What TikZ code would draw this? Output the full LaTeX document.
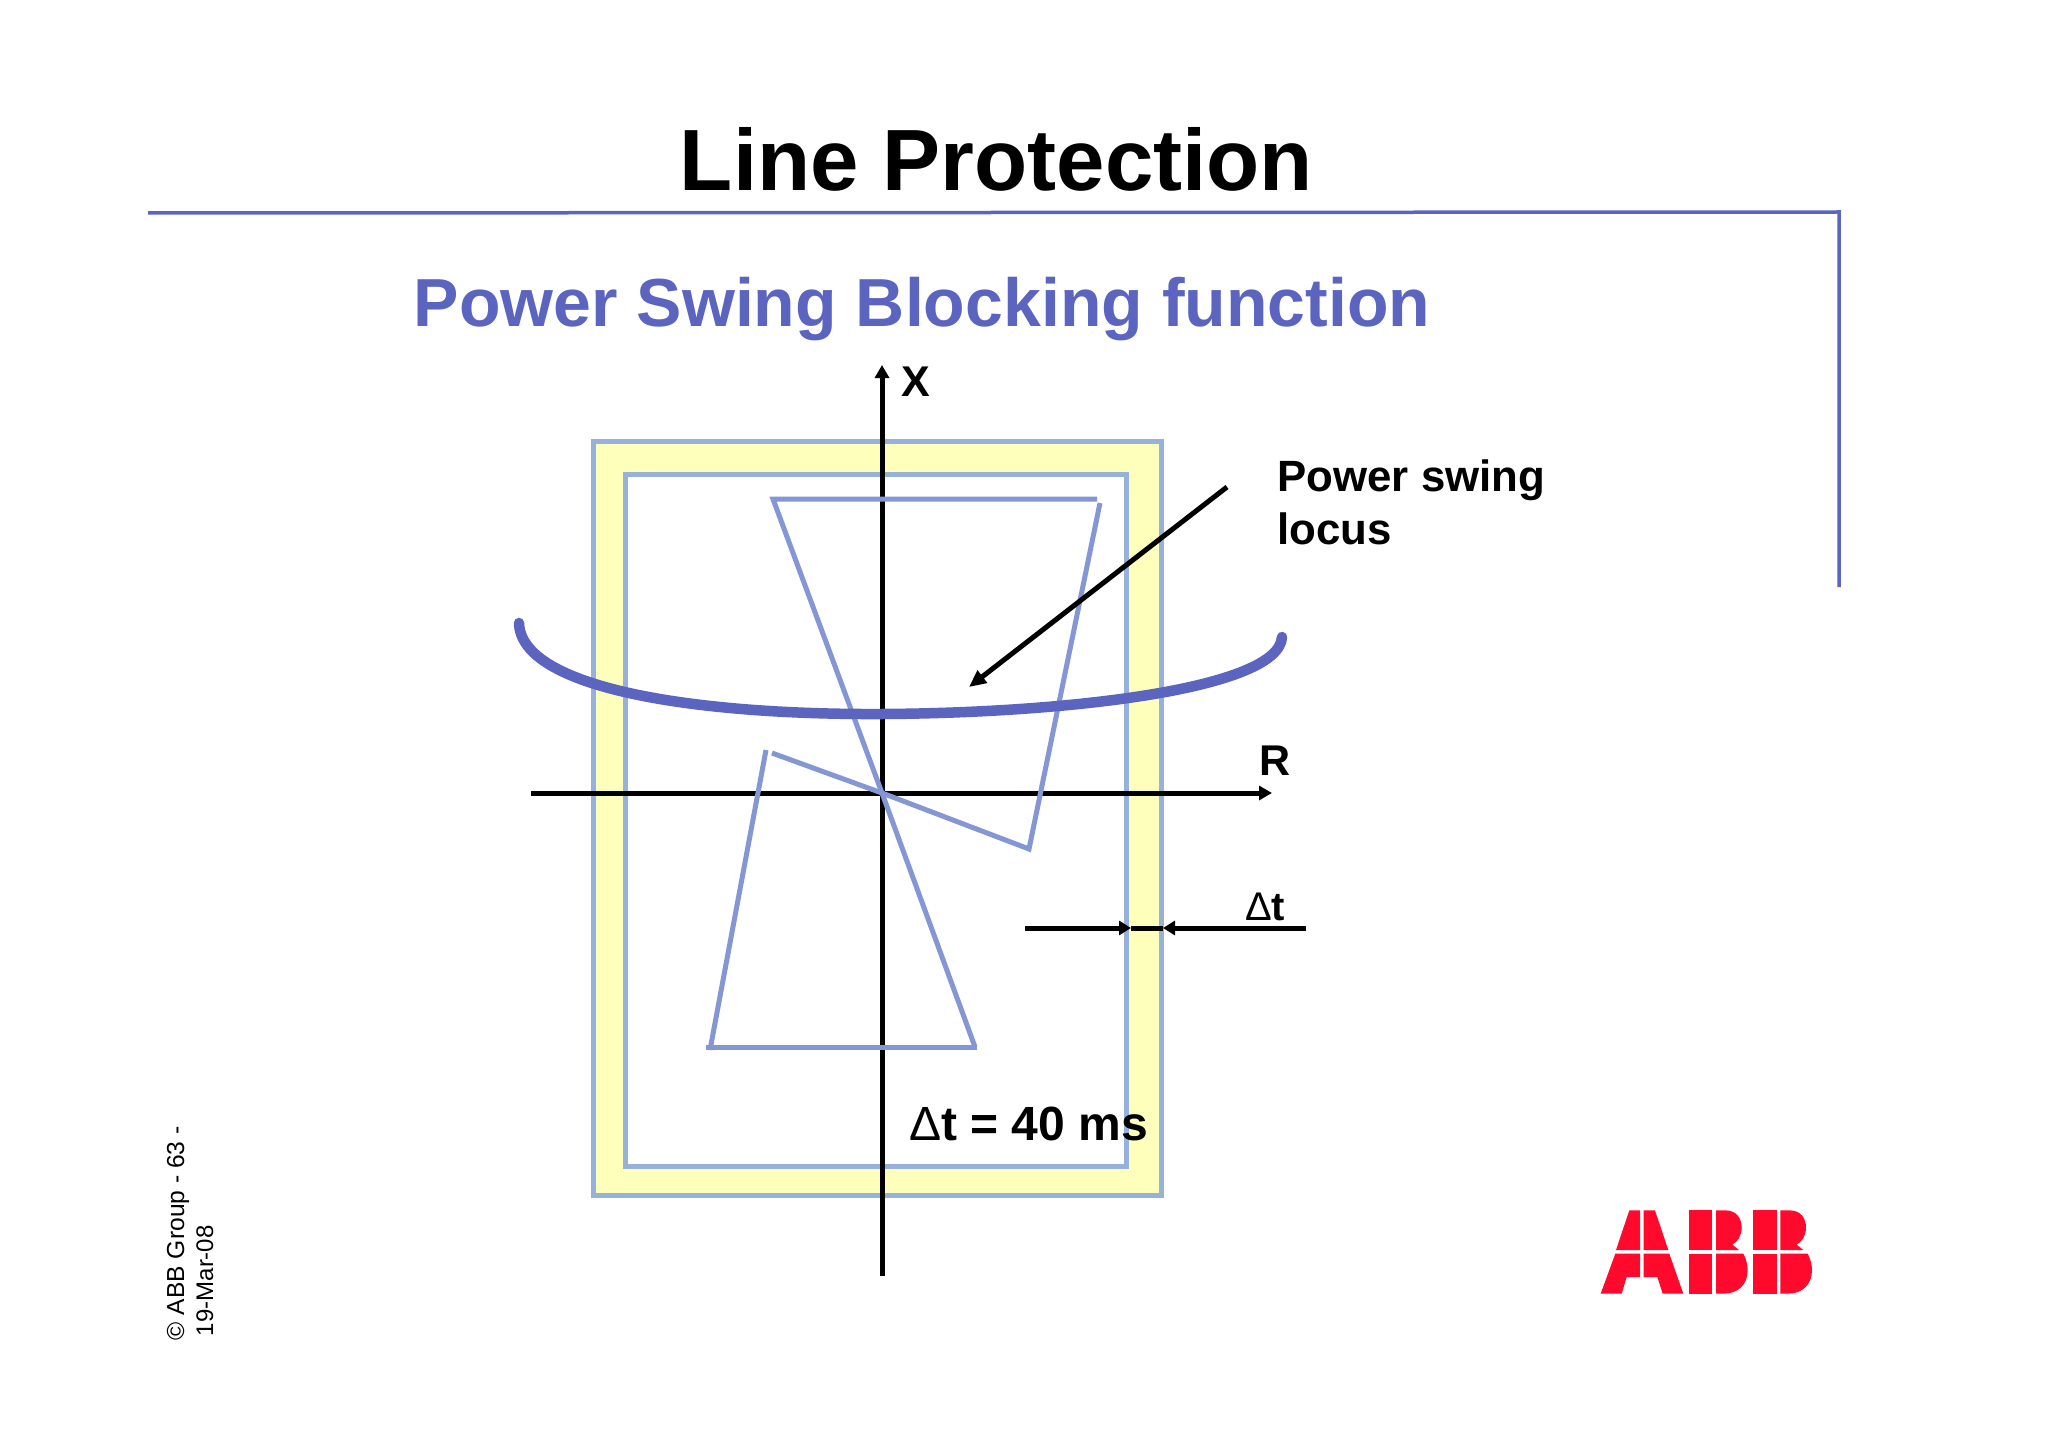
\documentclass[tikz,border=0pt]{standalone}
\usepackage{fontspec}
\setmainfont{Liberation Sans}
\usetikzlibrary{arrows.meta}
\definecolor{abbblue}{HTML}{5B65C0}
\definecolor{polyblue}{HTML}{8497D4}
\definecolor{rectblue}{HTML}{95B1DC}
\definecolor{bandyellow}{HTML}{FFFFBC}
\definecolor{abbred}{HTML}{FF0A2D}
\newcommand{\lbl}[1]{\fontsize{#1}{#1}\selectfont\bfseries}
\newcommand{\abbB}[1]{%
  \begin{scope}[xshift=#1pt]
    \fill[abbred] (447,88) rectangle (517,207);
    \fill[abbred] (447,218) rectangle (517,338);
    \fill[abbred] (528,88) -- (555,88) .. controls (590,88) and (605,112) .. (605,140)
      .. controls (605,165) and (592,183) .. (577,191) -- (597,207) -- (528,207) -- cycle;
    \fill[abbred] (528,218) -- (610,218) .. controls (618,232) and (623,250) .. (623,268)
      .. controls (623,310) and (595,338) .. (550,338) -- (528,338) -- cycle;
  \end{scope}}
\tikzset{
  rectline/.style={draw=rectblue,line width=5pt},
  polyline/.style={draw=polyblue,line width=5pt},
  axisline/.style={draw=black,line width=5pt},
  headtip/.style={-{Triangle[length=13pt,width=14pt]}},
  txt/.style={inner sep=0pt,outer sep=0pt,anchor=base west,text=black}
}
\begin{document}
\begin{tikzpicture}[x=1pt,y=-1pt]
\useasboundingbox (0,0) rectangle (2048,1447);
\fill[white] (0,0) rectangle (2048,1447);
% header rule
\coordinate (ruleL) at (148,213);
\coordinate (ruleC) at (1839,212);
\coordinate (ruleB) at (1839,587);
\draw[abbblue,line width=3.5pt] (ruleL) -- (ruleC) -- (ruleB);
\node[txt,anchor=base] (title) at (996.5,191) {\lbl{87}Line Protection};
\node[txt,anchor=base,text=abbblue] (subtitle) at (922,326.5) {\lbl{68}Power Swing Blocking function};
% bands
\draw[rectline,fill=bandyellow] (593,441) rectangle (1161,1195.5);
\draw[rectline,fill=white] (625.5,474) rectangle (1126,1166);
% axes
\coordinate (yb) at (882,1276);
\coordinate (yt) at (882,365);
\coordinate (xl) at (531,793);
\coordinate (xr) at (1272,793);
\draw[axisline,headtip] (yb) -- (yt);
\draw[axisline,headtip] (xl) -- (xr);
% characteristic
\coordinate (c) at (882,793);
\coordinate (p1) at (773,499);
\coordinate (p2) at (1097,499);
\coordinate (p3) at (1100,503);
\coordinate (p4) at (1029,849);
\coordinate (p5) at (772,753);
\coordinate (p6) at (766,750);
\coordinate (p7) at (710,1050);
\coordinate (p8) at (706,1047);
\coordinate (p9) at (977,1047);
\draw[polyline] (p2) -- (p1) -- (c) -- (975,1047);
\draw[polyline] (p3) -- (p4) -- (c) -- (p5);
\draw[polyline] (p6) -- (p7);
\draw[polyline] (p8) -- (p9);
% locus
\coordinate (locL) at (519,623);
\coordinate (locM) at (882,714);
\coordinate (locR) at (1282,637);
\draw[abbblue,line width=10.5pt,line cap=round]
  (locL) .. controls (521,689) and (697,715) .. (locM)
  .. controls (1067,713) and (1279,689) .. (locR);
% pointer
\coordinate (ptrS) at (1227,487);
\coordinate (ptrE) at (969,687);
\draw[axisline,-{Triangle[length=17pt,width=15pt]}] (ptrS) -- (ptrE);
% delta t
\coordinate (dl) at (1025,928);
\coordinate (dli) at (1131,928);
\coordinate (dr) at (1306,928);
\coordinate (dri) at (1163,928);
\draw[axisline] (dli) -- (dri);
\draw[axisline,-{Triangle[length=12pt,width=14pt]}] (dl) -- (dli);
\draw[axisline,-{Triangle[length=12pt,width=14pt]}] (dr) -- (dri);
% labels
\node[txt] (xlabel) at (901,396) {\lbl{43}X};
\node[txt] (rlabel) at (1259,775) {\lbl{43}R};
\node[txt] (loc1) at (1277.5,491) {\lbl{43.8}Power swing};
\node[txt] (loc2) at (1277.5,544) {\lbl{43.8}locus};
\node[txt] (dt) at (1245,920) {\lbl{40}{\mdseries Δ}t};
\node[txt] (dteq) at (909,1140) {\lbl{48}{\mdseries Δ}t = 40 ms};
% footer
\node[txt,rotate=90] (foot1) at (184,1340) {\fontsize{24.6}{24.6}\selectfont © ABB Group - 63 -};
\node[txt,rotate=90] (foot2) at (213,1336) {\fontsize{24}{24}\selectfont 19-Mar-08};
% logo
\begin{scope}[shift={(1540,1181)},x=0.3333pt,y=-0.3333pt]
  \fill[abbred] (268,88) -- (300,88) -- (300,207) -- (228,207) -- cycle;
  \fill[abbred] (311,88) -- (345,88) -- (385,207) -- (311,207) -- cycle;
  \fill[abbred] (226,218) -- (300,218) -- (300,288) -- (260,288) -- (245,338) -- (182,338) -- cycle;
  \fill[abbred] (311,218) -- (388,218) -- (430,338) -- (368,338) -- (352,288) -- (311,288) -- cycle;
  \abbB{0}
  \abbB{64.33}
\end{scope}
\end{tikzpicture}
\end{document}
